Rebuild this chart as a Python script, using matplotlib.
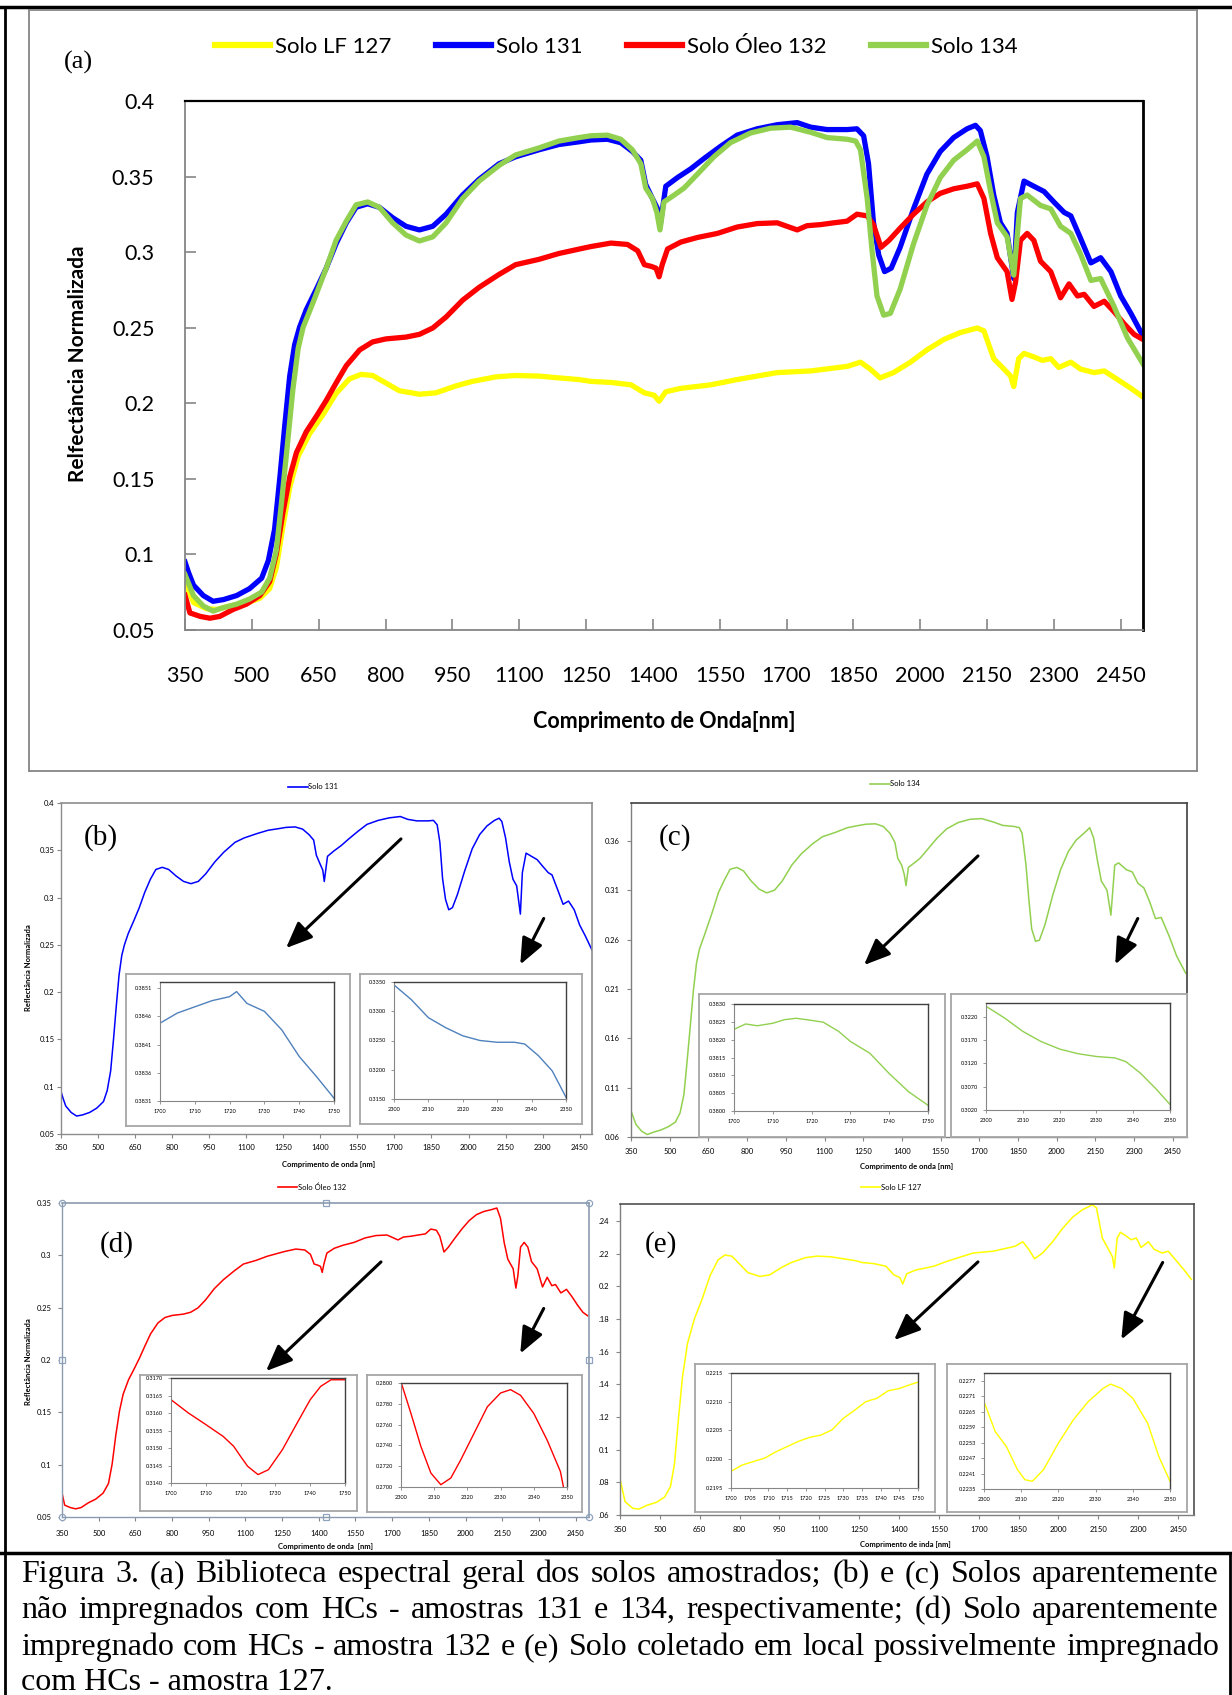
import numpy as np
import matplotlib.pyplot as plt
from matplotlib.lines import Line2D
from matplotlib.patches import FancyArrowPatch, ArrowStyle

W, H = 1232, 1695

# espectros (comprimento de onda nm, reflectancia normalizada)
wl_127 = [350, 369, 398, 421, 451, 488, 518, 540, 555, 570, 585, 604, 630, 660, 689, 719, 745, 771, 801, 831,
          876, 913, 958, 995, 1048, 1092, 1144, 1189, 1234, 1261, 1306, 1351, 1381, 1403, 1414, 1429, 1463, 1530,
          1589, 1679, 1754, 1836, 1866, 1888, 1910, 1940, 1978, 2015, 2053, 2090, 2128, 2143, 2165, 2188, 2203,
          2210, 2221, 2233, 2255, 2274, 2293, 2311, 2338, 2360, 2390, 2413, 2443, 2473, 2500]
rf_127 = [0.0820, 0.0682, 0.0641, 0.0636, 0.0659, 0.0678, 0.0710, 0.0774, 0.0913, 0.1189, 0.1443, 0.1650, 0.1800,
          0.1926, 0.2065, 0.2161, 0.2191, 0.2184, 0.2134, 0.2083, 0.2060, 0.2069, 0.2115, 0.2145, 0.2175, 0.2184,
          0.2180, 0.2168, 0.2157, 0.2145, 0.2138, 0.2122, 0.2069, 0.2053, 0.2014, 0.2076, 0.2099, 0.2122, 0.2157,
          0.2203, 0.2214, 0.2244, 0.2272, 0.2226, 0.2168, 0.2203, 0.2272, 0.2353, 0.2422, 0.2468, 0.2498, 0.2479,
          0.2295, 0.2226, 0.2180, 0.2111, 0.2295, 0.2330, 0.2307, 0.2284, 0.2295, 0.2237, 0.2272, 0.2226, 0.2203,
          0.2214, 0.2157, 0.2099, 0.2042]

wl_131 = [350, 358, 369, 391, 413, 436, 466, 495, 522, 537, 551, 563, 574, 585, 596, 607, 622, 645, 667, 689, 712,
          734, 760, 786, 816, 846, 876, 906, 936, 973, 1010, 1055, 1092, 1144, 1189, 1234, 1261, 1298, 1328, 1354,
          1373, 1384, 1399, 1410, 1416, 1429, 1455, 1485, 1515, 1552, 1589, 1634, 1679, 1724, 1754, 1791, 1836,
          1858, 1873, 1884, 1895, 1907, 1920, 1935, 1955, 1985, 2015, 2045, 2075, 2105, 2124, 2135, 2150, 2165,
          2180, 2195, 2210, 2218, 2233, 2255, 2278, 2300, 2323, 2338, 2360, 2383, 2405, 2428, 2450, 2473, 2500]
rf_131 = [0.0950, 0.0880, 0.0797, 0.0728, 0.0690, 0.0701, 0.0728, 0.0774, 0.0843, 0.0959, 0.1166, 0.1512, 0.1857,
          0.2180, 0.2387, 0.2502, 0.2618, 0.2756, 0.2894, 0.3055, 0.3194, 0.3297, 0.3320, 0.3297, 0.3228, 0.3171,
          0.3147, 0.3171, 0.3251, 0.3378, 0.3482, 0.3585, 0.3631, 0.3677, 0.3712, 0.3730, 0.3742, 0.3747, 0.3724,
          0.3666, 0.3608, 0.3447, 0.3355, 0.3290, 0.3170, 0.3436, 0.3493, 0.3551, 0.3620, 0.3700, 0.3774, 0.3816,
          0.3843, 0.3857, 0.3827, 0.3811, 0.3811, 0.3816, 0.3770, 0.3585, 0.3200, 0.2980, 0.2871, 0.2894, 0.3032,
          0.3286, 0.3516, 0.3666, 0.3758, 0.3816, 0.3839, 0.3804, 0.3631, 0.3378, 0.3194, 0.3124, 0.2825, 0.3263,
          0.3470, 0.3436, 0.3401, 0.3332, 0.3263, 0.3240, 0.3090, 0.2929, 0.2963, 0.2871, 0.2710, 0.2594, 0.2445]

wl_132 = [350, 361, 384, 406, 428, 458, 488, 518, 540, 555, 570, 585, 600, 622, 645, 667, 689, 712, 742, 771, 801,
          846, 876, 906, 936, 973, 1010, 1055, 1092, 1144, 1189, 1234, 1261, 1306, 1343, 1366, 1381, 1396, 1407,
          1414, 1421, 1433, 1463, 1500, 1545, 1589, 1634, 1679, 1701, 1724, 1746, 1776, 1806, 1836, 1858, 1881,
          1895, 1912, 1930, 1955, 1985, 2015, 2045, 2075, 2105, 2128, 2143, 2158, 2173, 2195, 2206, 2214, 2225,
          2240, 2255, 2270, 2293, 2315, 2334, 2353, 2368, 2390, 2413, 2435, 2458, 2480, 2500]
rf_132 = [0.0730, 0.0613, 0.0590, 0.0578, 0.0590, 0.0636, 0.0671, 0.0728, 0.0820, 0.1005, 0.1281, 0.1512, 0.1673,
          0.1811, 0.1915, 0.2019, 0.2134, 0.2249, 0.2353, 0.2406, 0.2426, 0.2438, 0.2456, 0.2498, 0.2571, 0.2682,
          0.2767, 0.2853, 0.2917, 0.2952, 0.2991, 0.3020, 0.3037, 0.3060, 0.3051, 0.3009, 0.2917, 0.2906, 0.2894,
          0.2837, 0.2917, 0.3021, 0.3067, 0.3097, 0.3124, 0.3166, 0.3189, 0.3194, 0.3171, 0.3147, 0.3175, 0.3182,
          0.3194, 0.3205, 0.3251, 0.3240, 0.3182, 0.3032, 0.3078, 0.3159, 0.3251, 0.3332, 0.3389, 0.3419, 0.3436,
          0.3452, 0.3355, 0.3124, 0.2963, 0.2871, 0.2687, 0.2802, 0.3078, 0.3124, 0.3078, 0.2940, 0.2871, 0.2698,
          0.2790, 0.2710, 0.2721, 0.2641, 0.2675, 0.2606, 0.2525, 0.2456, 0.2422]

wl_134 = [350, 369, 391, 413, 436, 466, 495, 522, 540, 555, 566, 578, 592, 604, 615, 637, 667, 689, 712, 734, 760,
          786, 816, 846, 876, 906, 936, 973, 1010, 1055, 1092, 1144, 1189, 1234, 1261, 1298, 1328, 1354, 1373, 1384,
          1399, 1409, 1416, 1425, 1448, 1470, 1500, 1537, 1574, 1619, 1664, 1709, 1754, 1791, 1836, 1855, 1866,
          1881, 1892, 1903, 1918, 1933, 1955, 1985, 2015, 2045, 2075, 2105, 2128, 2143, 2158, 2173, 2195, 2210,
          2225, 2240, 2270, 2293, 2315, 2338, 2360, 2383, 2405, 2435, 2465, 2500]
rf_134 = [0.0867, 0.0728, 0.0659, 0.0625, 0.0648, 0.0671, 0.0705, 0.0751, 0.0843, 0.1028, 0.1327, 0.1673, 0.2088,
          0.2364, 0.2502, 0.2664, 0.2894, 0.3078, 0.3205, 0.3313, 0.3332, 0.3297, 0.3194, 0.3113, 0.3074, 0.3101,
          0.3194, 0.3355, 0.3470, 0.3574, 0.3643, 0.3689, 0.3735, 0.3758, 0.3770, 0.3774, 0.3747, 0.3677, 0.3585,
          0.3424, 0.3355, 0.3263, 0.3147, 0.3332, 0.3378, 0.3424, 0.3516, 0.3631, 0.3724, 0.3788, 0.3820, 0.3827,
          0.3793, 0.3758, 0.3747, 0.3735, 0.3677, 0.3355, 0.3009, 0.2710, 0.2583, 0.2595, 0.2756, 0.3055, 0.3309,
          0.3493, 0.3608, 0.3677, 0.3735, 0.3631, 0.3401, 0.3194, 0.3101, 0.2848, 0.3355, 0.3378, 0.3309, 0.3286,
          0.3171, 0.3124, 0.2986, 0.2813, 0.2825, 0.2641, 0.2433, 0.2260]

# detalhes (insets)
b1_x = [1700, 1705, 1710, 1715, 1720, 1722, 1725, 1730, 1735, 1740, 1745, 1750]
b1_y = [0.38448, 0.38466, 0.38477, 0.38488, 0.38495, 0.38504, 0.38483, 0.38469, 0.38436, 0.38389, 0.38353, 0.38315]
b2_x = [2300, 2305, 2310, 2315, 2320, 2325, 2330, 2335, 2338, 2342, 2346, 2350]
b2_y = [0.3345, 0.3320, 0.3289, 0.3272, 0.3258, 0.3250, 0.3247, 0.3247, 0.3244, 0.3224, 0.3198, 0.3153]
c1_x = [1700, 1703, 1706, 1710, 1713, 1716, 1720, 1723, 1727, 1730, 1735, 1740, 1745, 1750]
c1_y = [0.38229, 0.38244, 0.38239, 0.38246, 0.38256, 0.38260, 0.38254, 0.38249, 0.38223, 0.38195, 0.38162,
        0.38105, 0.38054, 0.38016]
c2_x = [2300, 2305, 2310, 2315, 2320, 2325, 2330, 2335, 2338, 2342, 2346, 2350]
c2_y = [0.3243, 0.3218, 0.3189, 0.3167, 0.3151, 0.3141, 0.3135, 0.3132, 0.3124, 0.3099, 0.3067, 0.3032]
d1_x = [1700, 1705, 1710, 1715, 1718, 1720, 1722, 1725, 1728, 1732, 1736, 1740, 1743, 1746, 1750]
d1_y = [0.31638, 0.31600, 0.31567, 0.31533, 0.31505, 0.31476, 0.31448, 0.31424, 0.31438, 0.31495, 0.31567,
        0.31638, 0.31676, 0.31695, 0.31695]
d2_x = [2300, 2303, 2306, 2309, 2312, 2315, 2318, 2322, 2326, 2330, 2333, 2336, 2340, 2344, 2348, 2349]
d2_y = [0.28010, 0.27707, 0.27389, 0.27134, 0.27022, 0.27086, 0.27261, 0.27516, 0.27771, 0.27904, 0.27936,
        0.27882, 0.27707, 0.27452, 0.27150, 0.26990]
e1_x = [1700, 1703, 1706, 1709, 1712, 1715, 1718, 1721, 1724, 1727, 1730, 1733, 1736, 1739, 1742, 1745, 1748, 1750]
e1_y = [0.21979, 0.21990, 0.21996, 0.22002, 0.22013, 0.22022, 0.22031, 0.22038, 0.22042, 0.22051, 0.22071,
        0.22085, 0.22100, 0.22106, 0.22119, 0.22123, 0.22130, 0.22134]
e2_x = [2300, 2303, 2306, 2309, 2311, 2313, 2316, 2320, 2324, 2328, 2332, 2334, 2337, 2340, 2344, 2347, 2350]
e2_y = [0.22689, 0.22573, 0.22515, 0.22425, 0.22386, 0.22380, 0.22425, 0.22528, 0.22618, 0.22689, 0.22740,
        0.22757, 0.22740, 0.22702, 0.22605, 0.22476, 0.22380]

nomes = ['Solo LF 127', 'Solo 131', 'Solo Óleo 132', 'Solo 134']
cores = ['#FFFF00', '#0000FF', '#FF0000', '#92D050']
xt = list(range(350, 2451, 150))

legenda = ["Figura 3. (a) Biblioteca espectral geral dos solos amostrados; (b) e (c) Solos aparentemente",
           "não impregnados com HCs - amostras 131 e 134, respectivamente; (d) Solo aparentemente",
           "impregnado com HCs - amostra 132 e (e) Solo coletado em local possivelmente impregnado",
           "com HCs - amostra 127."]

SANS = ['Lato', 'DejaVu Sans']
SERIF = ['Liberation Serif', 'DejaVu Serif']
GRAY = '#868686'


def box(x0, y0, x1, y1):
    return [x0 / W, 1 - y1 / H, (x1 - x0) / W, (y1 - y0) / H]


def fx(x):
    return x / W


def fy(y):
    return 1 - y / H


def hline(x0, x1, y, c='black', lw=2.0):
    fig.add_artist(Line2D([fx(x0), fx(x1)], [fy(y), fy(y)], color=c, lw=lw, transform=fig.transFigure))


def vline(x, y0, y1, c='black', lw=2.0):
    fig.add_artist(Line2D([fx(x), fx(x)], [fy(y0), fy(y1)], color=c, lw=lw, transform=fig.transFigure))


def arrow(x0, y0, x1, y1):
    st = ArrowStyle('-|>', head_length=1.0, head_width=0.42)
    fig.add_artist(FancyArrowPatch((fx(x0), fy(y0)), (fx(x1), fy(y1)), transform=fig.transFigure,
                                   arrowstyle=st, mutation_scale=16, lw=2.2, color='black'))


fig = plt.figure(figsize=(W / 100, H / 100), dpi=100)

# molduras
hline(0, W, 7, lw=2.5)
vline(5, 7, H, lw=2.0)
hline(0, W, 1553, lw=2.5)
vline(1230, 1553, H, lw=2.0)
hline(29, 1197, 9.5, c=GRAY, lw=1.3)
hline(29, 1197, 771, c=GRAY, lw=1.3)
vline(29, 9.5, 771, c=GRAY, lw=1.3)
vline(1197, 9.5, 771, c=GRAY, lw=1.3)

# ---------------- (a) ----------------
ax = fig.add_axes(box(185, 101, 1143, 630))
for wl, rf, c in [(wl_127, rf_127, cores[0]), (wl_131, rf_131, cores[1]),
                  (wl_132, rf_132, cores[2]), (wl_134, rf_134, cores[3])]:
    ax.plot(wl, rf, color=c, lw=3.8, solid_joinstyle='round')
ax.set_xlim(350, 2500)
ax.set_ylim(0.05, 0.4)
ax.set_xticks(xt)
ax.set_yticks([0.05, 0.1, 0.15, 0.2, 0.25, 0.3, 0.35, 0.4])
ax.set_yticklabels(['0.05', '0.1', '0.15', '0.2', '0.25', '0.3', '0.35', '0.4'])
ax.tick_params(direction='in', length=8, width=1.2, color=GRAY, labelsize=15.5)
ax.tick_params(axis='y', pad=22)
ax.tick_params(axis='x', pad=26)
for lb in ax.get_xticklabels() + ax.get_yticklabels():
    lb.set_family(SANS)
ax.spines['left'].set_color(GRAY)
ax.spines['bottom'].set_color(GRAY)
ax.spines['left'].set_linewidth(1.3)
ax.spines['bottom'].set_linewidth(1.3)
ax.spines['top'].set_linewidth(1.6)
ax.spines['right'].set_linewidth(2.0)
fig.text(fx(78), fy(364), 'Relfectância Normalizada', rotation=90, ha='center', va='center',
         fontsize=15, fontweight='bold', family=SANS)
fig.text(fx(664), fy(722), 'Comprimento de Onda[nm]', ha='center', va='center',
         fontsize=15.5, fontweight='bold', family=SANS)
fig.text(fx(78), fy(62), '(a)', ha='center', va='center', fontsize=19, family=SERIF)
hs = [Line2D([], [], color=c, lw=4.5) for c in cores]
fig.legend(hs, nomes, loc='center', bbox_to_anchor=(fx(616), fy(47)), ncol=4, frameon=False,
           prop={'family': SANS, 'size': 16}, handlelength=2.5, handletextpad=0.2, columnspacing=2.0)


# ---------------- painéis menores ----------------
def painel(rect, wl, rf, cor, xmax, ylim, yt, ylbl, spc, spc2, lab, lab_xy, nome, leg_xy, xlab, xlab_xy,
           ypad, xpad):
    a = fig.add_axes(box(*rect))
    a.plot(wl, rf, color=cor, lw=1.1)
    a.set_xlim(350, xmax)
    a.set_ylim(*ylim)
    a.set_xticks(xt)
    a.set_yticks(yt)
    a.set_yticklabels(ylbl)
    a.tick_params(direction='out', length=3, width=0.8, color=GRAY, labelsize=5.5)
    a.tick_params(axis='y', pad=ypad)
    a.tick_params(axis='x', pad=xpad)
    for lb in a.get_xticklabels() + a.get_yticklabels():
        lb.set_family(SANS)
    for k in ['left', 'bottom']:
        a.spines[k].set_color(spc)
        a.spines[k].set_linewidth(1.0)
    for k in ['top', 'right']:
        a.spines[k].set_color(spc2)
        a.spines[k].set_linewidth(1.2)
    fig.text(fx(lab_xy[0]), fy(lab_xy[1]), lab, ha='center', va='center', fontsize=21, family=SERIF)
    fig.legend([Line2D([], [], color=cor, lw=1.2)], [nome], loc='center',
               bbox_to_anchor=(fx(leg_xy[0]), fy(leg_xy[1])), frameon=False,
               prop={'family': SANS, 'size': 5.5}, handlelength=2.6, handletextpad=0.1)
    fig.text(fx(xlab_xy[0]), fy(xlab_xy[1]), xlab, ha='center', va='center', fontsize=5.5,
             fontweight='bold', family=SANS)
    return a


def detalhe(frame, rect, x, y, cor, xlim, ylim, xtk, ytk, xlbl=None):
    fr = fig.add_axes(box(*frame))
    fr.set_xticks([])
    fr.set_yticks([])
    for s in fr.spines.values():
        s.set_color('#a6a6a6')
        s.set_linewidth(1.3)
    a = fig.add_axes(box(*rect))
    a.plot(x, y, color=cor, lw=1.0)
    a.set_xlim(*xlim)
    a.set_ylim(*ylim)
    a.set_xticks(xtk)
    a.set_yticks(ytk)
    a.set_yticklabels(['%.4f' % v for v in ytk])
    if xlbl is not None:
        a.set_xticklabels(xlbl)
    a.tick_params(direction='out', length=2.5, width=0.6, color=GRAY, labelsize=4, pad=3)
    for lb in a.get_xticklabels() + a.get_yticklabels():
        lb.set_family(SANS)
    for k in ['left', 'bottom']:
        a.spines[k].set_color(GRAY)
        a.spines[k].set_linewidth(0.8)
    for k in ['top', 'right']:
        a.spines[k].set_color('#404040')
        a.spines[k].set_linewidth(1.0)
    return a


dez1 = list(range(1700, 1751, 10))
dez2 = list(range(2300, 2351, 10))

# (b)
painel((61, 803, 592, 1134), wl_131, rf_131, '#0000FF', 2500, (0.05, 0.4),
       [0.05, 0.1, 0.15, 0.2, 0.25, 0.3, 0.35, 0.4], ['0.05', '0.1', '0.15', '0.2', '0.25', '0.3', '0.35', '0.4'],
       '#8c8c8c', '#8c8c8c', '(b)', (101, 838), 'Solo 131', (313, 787), 'Comprimento de onda [nm]', (329, 1165),
       1.5, 4)
fig.text(fx(29), fy(968), 'Reflectância Normalizada', rotation=90, ha='center', va='center', fontsize=5.5,
         fontweight='bold', family=SANS)
detalhe((126, 974, 350, 1126), (160, 982, 334, 1101), b1_x, b1_y, '#4F81BD', (1700, 1750), (0.3831, 0.38521),
        dez1, [0.3831, 0.3836, 0.3841, 0.3846, 0.3851])
detalhe((360, 974, 582, 1124), (394, 982, 566, 1099), b2_x, b2_y, '#4F81BD', (2300, 2350), (0.3150, 0.3350),
        dez2, [0.3150, 0.3200, 0.3250, 0.3300, 0.3350])
arrow(403, 837, 284, 950)
arrow(545, 916, 519, 967)

# (c)
painel((631, 803, 1187, 1137), wl_134, rf_134, '#92D050', 2505, (0.06, 0.3985),
       [0.06, 0.11, 0.16, 0.21, 0.26, 0.31, 0.36], ['0.06', '0.11', '0.16', '0.21', '0.26', '0.31', '0.36'],
       '#7f7f7f', '#404040', '(c)', (675, 838), 'Solo 134', (895, 784), 'Comprimento de onda [nm]', (907, 1167),
       5, 5)
detalhe((699, 994, 945, 1137), (734, 1004, 928, 1111), c1_x, c1_y, '#92D050', (1700, 1750), (0.3800, 0.3830),
        dez1, [0.3800, 0.3805, 0.3810, 0.3815, 0.3820, 0.3825, 0.3830])
detalhe((951, 994, 1187, 1137), (986, 1003, 1170, 1110), c2_x, c2_y, '#92D050', (2300, 2350), (0.3020, 0.3250),
        dez2, [0.3020, 0.3070, 0.3120, 0.3170, 0.3220])
arrow(980, 854, 862, 967)
arrow(1139, 916, 1114, 967)

# (d)
ad = painel((62, 1203, 589, 1517), wl_132, rf_132, '#FF0000', 2505, (0.05, 0.35),
            [0.05, 0.1, 0.15, 0.2, 0.25, 0.3, 0.35], ['0.05', '0.1', '0.15', '0.2', '0.25', '0.3', '0.35'],
            '#8a9bb0', '#8a9bb0', '(d)', (117, 1245), 'Solo Óleo 132', (312, 1187), 'Comprimento de onda  [nm]',
            (325, 1546), 4.5, 6)
ad.plot([0, 0, 1, 1], [0, 1, 0, 1], 'o', ms=4.5, mfc='white', mec='#8fa3bf', mew=0.9,
        transform=ad.transAxes, clip_on=False)
ad.plot([0.5, 0.5, 0, 1], [0, 1, 0.5, 0.5], 's', ms=4.0, mfc='white', mec='#8fa3bf', mew=0.9,
        transform=ad.transAxes, clip_on=False)
fig.text(fx(29), fy(1362), 'Reflectância Normalizada', rotation=90, ha='center', va='center', fontsize=5.5,
         fontweight='bold', family=SANS)
detalhe((140, 1375, 357, 1511), (171, 1378, 345, 1483), d1_x, d1_y, '#FF0000', (1700, 1750), (0.3140, 0.3170),
        dez1, [0.3140, 0.3145, 0.3150, 0.3155, 0.3160, 0.3165, 0.3170])
detalhe((367, 1375, 582, 1512), (401, 1383, 567, 1487), d2_x, d2_y, '#FF0000', (2300, 2350), (0.2700, 0.2800),
        dez2, [0.2700, 0.2720, 0.2740, 0.2760, 0.2780, 0.2800])
arrow(383, 1260, 264, 1373)
arrow(545, 1306, 519, 1356)

# (e)
painel((620, 1204, 1194, 1515), wl_127, rf_127, '#FFFF00', 2510, (0.06, 0.2503),
       [0.06, 0.08, 0.1, 0.12, 0.14, 0.16, 0.18, 0.2, 0.22, 0.24],
       ['.06', '.08', '0.1', '.12', '.14', '.16', '.18', '0.2', '.22', '.24'],
       '#7f7f7f', '#505050', '(e)', (661, 1245), 'Solo LF 127', (891, 1187), 'Comprimento de inda [nm]',
       (905, 1544), 5, 5)
detalhe((695, 1364, 935, 1512), (731, 1373, 918, 1488), e1_x, e1_y, '#FFFF00', (1700, 1750), (0.2195, 0.2215),
        list(range(1700, 1751, 5)), [0.2195, 0.2200, 0.2205, 0.2210, 0.2215])
detalhe((947, 1364, 1187, 1512), (984, 1373, 1170, 1489), e2_x, e2_y, '#FFFF00', (2300, 2350), (0.2235, 0.2280),
        dez2, [0.2235, 0.2241, 0.2247, 0.2253, 0.2259, 0.2265, 0.2271, 0.2277])
arrow(980, 1260, 892, 1342)
arrow(1164, 1260, 1120, 1342)

# legenda da figura, justificada
x0, x1 = 21, 1219
bases = [1582, 1618, 1655, 1690]
tam = 23
r = fig.canvas.get_renderer()
for i, (linha, yb) in enumerate(zip(legenda, bases)):
    if i == len(legenda) - 1:
        fig.text(fx(x0), fy(yb), linha, ha='left', va='baseline', fontsize=tam, family=SERIF)
        continue
    ws = linha.split(' ')
    ts = [fig.text(0, fy(yb), w, ha='left', va='baseline', fontsize=tam, family=SERIF) for w in ws]
    larg = [t.get_window_extent(r).width for t in ts]
    gap = (x1 - x0 - sum(larg)) / (len(ws) - 1)
    x = x0
    for t, w in zip(ts, larg):
        t.set_x(fx(x))
        x += w + gap

fig.savefig('out.png', dpi=100)
